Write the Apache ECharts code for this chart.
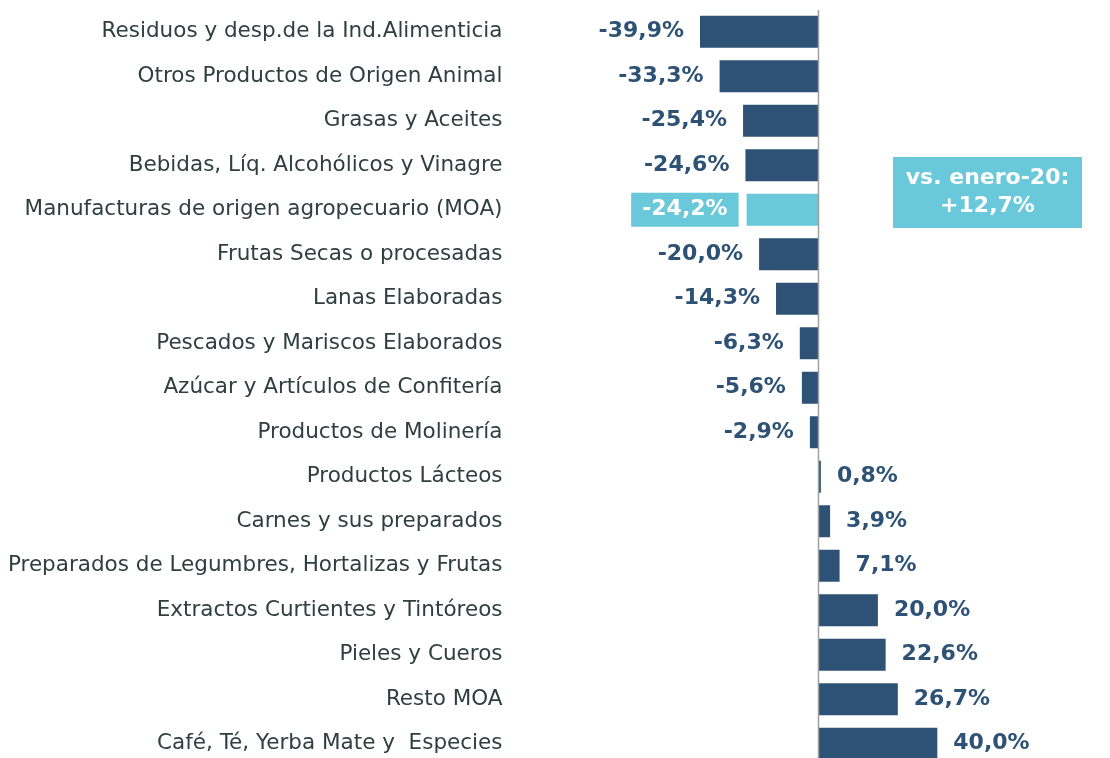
<!DOCTYPE html>
<html>
<head>
<meta charset="utf-8">
<script src="https://cdn.jsdelivr.net/npm/echarts@6/dist/echarts.min.js"></script>
<style>
  html, body { margin: 0; padding: 0; background: #fff; }
  #chart { width: 1110px; height: 758px; }
</style>
</head>
<body>
<div id="chart"></div>
<script>
// Datos
const categorias = [
    'Residuos y desp.de la Ind.Alimenticia',
    'Otros Productos de Origen Animal',
    'Grasas y Aceites',
    'Bebidas, Líq. Alcohólicos y Vinagre',
    'Manufacturas de origen agropecuario (MOA)',
    'Frutas Secas o procesadas',
    'Lanas Elaboradas',
    'Pescados y Mariscos Elaborados',
    'Azúcar y Artículos de Confitería',
    'Productos de Molinería',
    'Productos Lácteos',
    'Carnes y sus preparados',
    'Preparados de Legumbres, Hortalizas y Frutas',
    'Extractos Curtientes y Tintóreos',
    'Pieles y Cueros',
    'Resto MOA',
    'Café, Té, Yerba Mate y  Especies'
];
const variaciones = [-39.9, -33.3, -25.4, -24.6, -24.2, -20.0, -14.3, -6.3, -5.6, -2.9, 0.8, 3.9, 7.1, 20.0, 22.6, 26.7, 40.0];
const destacado = 'Manufacturas de origen agropecuario (MOA)';
const notaTexto = ['vs. enero-20:', '+12,7%'];

const AZUL = '#2D5275';
const CELESTE = '#69C8D9';

// ===================================================
//  GRÁFICO
// ===================================================
(function () {
    const chart = echarts.init(document.getElementById('chart'));

    const datos = variaciones.map((v, i) => {
        const esMoa = categorias[i] === destacado;
        const label = { position: v < 0 ? 'left' : 'right' };
        if (esMoa) {
            Object.assign(label, {
                color: '#fff',
                backgroundColor: CELESTE,
                padding: [6, 11, 6, 11],
                distance: 8
            });
        }
        return {
            value: v,
            itemStyle: { color: esMoa ? CELESTE : AZUL },
            label: label
        };
    });

    const option = {
        animation: false,
        grid: {
            left: 521.5, width: 475.2, top: 9.5, height: 756.5,
            outerBoundsMode: 'none', containLabel: false
        },
        xAxis: {
            type: 'value',
            min: -100,
            max: 60,
            show: false
        },
        yAxis: {
            type: 'category',
            data: categorias,
            inverse: true,
            axisTick: { show: false },
            axisLine: { show: false },
            axisLabel: {
                margin: 19,
                fontFamily: 'DejaVu Sans',
                fontSize: 21.5,
                color: '#2F3E3E'
            }
        },
        graphic: [
            {
                type: 'line',
                shape: { x1: 818.5, y1: 10, x2: 818.5, y2: 758 },
                style: { stroke: '#A0A0A0', lineWidth: 1.5 },
                z: 10
            },
            {
                type: 'group',
                left: 893,
                top: 157,
                children: [
                    { type: 'rect', shape: { x: 0, y: 0, width: 189, height: 71 }, style: { fill: CELESTE } },
                    {
                        type: 'text',
                        x: 94.5,
                        y: 35.5,
                        style: {
                            text: notaTexto.join('\n'),
                            fill: '#fff',
                            font: 'bold 22px "DejaVu Sans"',
                            align: 'center',
                            verticalAlign: 'middle',
                            lineHeight: 28
                        }
                    }
                ]
            }
        ],
        series: [
            {
                type: 'bar',
                data: datos,
                barWidth: 32,
                label: {
                    show: true,
                    distance: 16,
                    fontFamily: 'DejaVu Sans',
                    fontWeight: 'bold',
                    fontSize: 22,
                    color: AZUL,
                    formatter: p => p.value.toFixed(1).replace('.', ',') + '%'
                }
            }
        ]
    };

    chart.setOption(option);
})();
</script>
</body>
</html>
